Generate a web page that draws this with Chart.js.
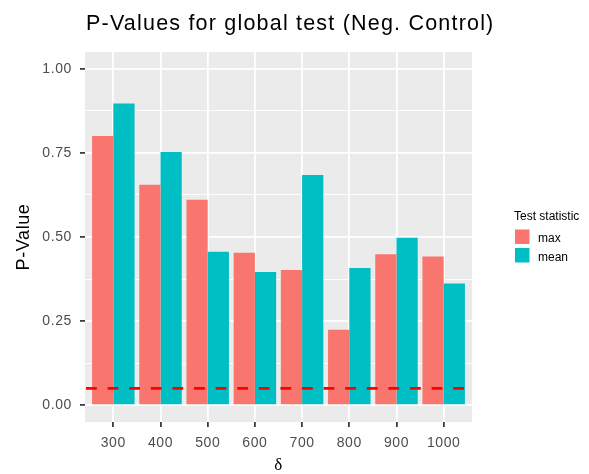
<!DOCTYPE html>
<html>
<head>
<meta charset="utf-8">
<script src="https://cdn.jsdelivr.net/npm/chart.js@4.4.1/dist/chart.umd.min.js"></script>
<style>
  html, body { margin: 0; padding: 0; background: #fff; }
  #box { width: 589px; height: 474px; }
</style>
</head>
<body>
<div id="box"><canvas id="pvalues"></canvas></div>
<script>
// values
const DELTAS = ['300', '400', '500', '600', '700', '800', '900', '1000'];
const MAX_P = [0.800, 0.655, 0.611, 0.453, 0.402, 0.224, 0.449, 0.442];
const MEAN_P = [0.897, 0.753, 0.456, 0.396, 0.684, 0.408, 0.498, 0.362];
const Y_MAJOR = [0, 0.25, 0.5, 0.75, 1];
const Y_MINOR = [0.125, 0.375, 0.625, 0.875];
const ALPHA = 0.05;

const TITLE = 'P-Values for global test (Neg. Control)';
const LEGEND_TITLE = 'Test statistic';
const FONT = "'Liberation Sans', Arial, sans-serif";

Chart.defaults.font.family = FONT;

const isMajor = v => Y_MAJOR.includes(v);

// grey panel behind the grid
const panelBg = {
    id: 'panelBg',
    beforeDraw(chart) {
        const { ctx, chartArea: a } = chart;
        ctx.save();
        ctx.fillStyle = '#EBEBEB';
        ctx.fillRect(a.left, a.top, a.right - a.left, a.bottom - a.top);
        ctx.restore();
        ctx.letterSpacing = '0.6px';
    }
};

// dashed significance line at alpha
const alphaLine = {
    id: 'alphaLine',
    afterDatasetsDraw(chart) {
        const { ctx, chartArea: a, scales } = chart;
        const y = scales.y.getPixelForValue(ALPHA);
        ctx.save();
        ctx.strokeStyle = '#FF0000';
        ctx.lineWidth = 2.6;
        ctx.setLineDash([10.8, 10.8]);
        ctx.beginPath();
        ctx.moveTo(a.left + 1, y);
        ctx.lineTo(a.right, y);
        ctx.stroke();
        ctx.restore();
    }
};

// title and legend in ggplot's places
const decorations = {
    id: 'decorations',
    afterDraw(chart) {
        const { ctx, chartArea: a } = chart;
        ctx.save();
        ctx.fillStyle = '#000';
        ctx.textAlign = 'left';
        ctx.textBaseline = 'alphabetic';
        ctx.letterSpacing = '1.2px';
        ctx.font = '21.5px ' + FONT;
        ctx.fillText(TITLE, a.left + 1, 30);

        ctx.letterSpacing = '0px';
        ctx.font = '12px ' + FONT;
        ctx.fillText(LEGEND_TITLE, 514, 219.5);
        const baselines = [242, 260.5];
        chart.data.datasets.forEach((ds, i) => {
            const top = 229.5 + i * 18.5;
            ctx.fillStyle = ds.backgroundColor;
            ctx.fillRect(515, top, 14.5, 14.5);
            ctx.fillStyle = '#000';
            ctx.fillText(ds.label, 538, baselines[i]);
        });
        ctx.restore();
    }
};

new Chart(document.getElementById('pvalues'), {
    type: 'bar',
    data: {
        datasets: [
            {
                label: 'max',
                data: MAX_P.map((v, i) => ({ x: i + 1, y: v })),
                backgroundColor: '#F8766D'
            }, {
                label: 'mean',
                data: MEAN_P.map((v, i) => ({ x: i + 1, y: v })),
                backgroundColor: '#00BFC4'
            }
        ]
    },
    options: {
        responsive: true,
        maintainAspectRatio: false,
        animation: false,
        categoryPercentage: 0.9,
        barPercentage: 1,
        layout: {
            padding: { top: 52, right: 117, left: 0, bottom: 0 }
        },
        plugins: {
            legend: { display: false },
            title: { display: false },
            tooltip: { enabled: false }
        },
        scales: {
            x: {
                type: 'linear',
                min: 0.4,
                max: 8.6,
                offset: false,
                afterBuildTicks: scale => {
                    scale.ticks = DELTAS.map((_, i) => ({ value: i + 1 }));
                },
                afterFit: scale => { scale.height = 52; },
                border: { display: false },
                grid: {
                    offset: false,
                    color: '#FFFFFF',
                    lineWidth: 1.8,
                    drawTicks: true,
                    tickLength: 5,
                    tickWidth: 1.7,
                    tickColor: '#333333'
                },
                ticks: {
                    padding: 8,
                    color: '#4D4D4D',
                    font: { size: 14 },
                    maxRotation: 0,
                    autoSkip: false,
                    callback: val => DELTAS[val - 1]
                },
                title: {
                    display: true,
                    text: 'δ',
                    color: '#000',
                    padding: { top: 0, bottom: 0 },
                    font: { family: "'Liberation Serif', 'DejaVu Serif', serif", size: 17, lineHeight: 1 }
                }
            },
            y: {
                min: -0.05,
                max: 1.05,
                afterBuildTicks: scale => {
                    scale.ticks = Y_MAJOR.concat(Y_MINOR).sort((a, b) => a - b).map(v => ({ value: v }));
                },
                afterFit: scale => { scale.width = 85; },
                border: { display: false },
                grid: {
                    color: '#FFFFFF',
                    lineWidth: ctx => isMajor(ctx.tick.value) ? 1.8 : 0.9,
                    drawTicks: true,
                    tickLength: 5,
                    tickWidth: 1.7,
                    tickColor: ctx => isMajor(ctx.tick.value) ? '#333333' : 'rgba(0,0,0,0)'
                },
                ticks: {
                    padding: 8,
                    color: '#4D4D4D',
                    font: { size: 14 },
                    autoSkip: false,
                    callback: val => isMajor(val) ? val.toFixed(2) : ''
                },
                title: {
                    display: true,
                    text: 'P-Value',
                    color: '#000',
                    padding: { top: 15, bottom: 0 },
                    font: { size: 18, lineHeight: 1 }
                }
            }
        }
    },
    plugins: [panelBg, alphaLine, decorations]
});
</script>
</body>
</html>
